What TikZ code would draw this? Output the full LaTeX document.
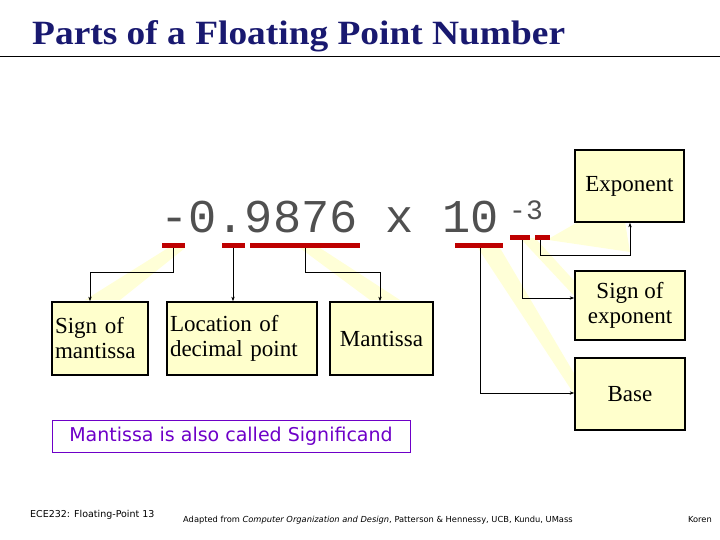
\documentclass[tikz,border=0pt]{standalone}
\usepackage{fontspec}
\setmainfont{Liberation Serif}
\setsansfont{DejaVu Sans}
\setmonofont{Liberation Mono}
\usetikzlibrary{arrows.meta,positioning}
\definecolor{titleblue}{RGB}{25,25,112}
\definecolor{boxfill}{RGB}{255,255,204}
\definecolor{wedge}{RGB}{255,255,215}
\definecolor{markred}{RGB}{190,0,0}
\definecolor{notepurple}{RGB}{110,0,200}
\definecolor{numgray}{RGB}{80,80,80}

\begin{document}
\begin{tikzpicture}[
    x=1pt, y=-1pt,
    part/.style={
        rectangle, draw, line width=1.6pt, fill=boxfill,
        align=left, font=\fontsize{23}{25}\selectfont, inner sep=3pt
    },
    redbar/.style={markred, line width=5pt},
    arrow/.style={-{Stealth[length=1.6mm,width=1.2mm]}, line width=0.7pt}
]
\useasboundingbox (0,0) rectangle (720,540);

% Title
\node[anchor=base west, font=\fontsize{34}{36}\selectfont\bfseries, text=titleblue, inner sep=0pt, xscale=1.1] (title) at (32,45) {Parts of a Floating Point Number};
\draw[line width=0.8pt] (0,56) -- (720,56);

% Yellow callout wedges
\fill[wedge] (168,248) -- (185,248) -- (120,300) -- (85,300) -- cycle;
\fill[wedge] (300,248) -- (320,248) -- (400,300) -- (370,300) -- cycle;
\fill[wedge] (478,248) -- (500,248) -- (578,380) -- (578,400) -- cycle;
\fill[wedge] (520,238) -- (535,238) -- (578,285) -- (578,300) -- cycle;
\fill[wedge] (535,238) -- (550,238) -- (578,222) -- (625,222) -- (630,252) -- cycle;

% The number
\node[anchor=base west, font=\ttfamily\fontsize{47}{47}\selectfont, text=numgray, inner sep=0pt] (num) at (160,233) {-0.9876 x 10};
\node[anchor=base west, font=\ttfamily\fontsize{28}{28}\selectfont, text=numgray, inner sep=0pt] (expo) at (509,220) {-3};

% Red marks
\draw[redbar] (162,245) -- (185,245);
\draw[redbar] (222,245) -- (245,245);
\draw[redbar] (250,245) -- (360,245);
\draw[redbar] (455,245) -- (503,245);
\draw[redbar] (510,237) -- (530,237);
\draw[redbar] (535,237) -- (550,237);
\coordinate (signend) at (173,248);
\coordinate (pointend) at (233,248);
\coordinate (mantend) at (305,248);
\coordinate (baseend) at (480,248);
\coordinate (esignend) at (522,240);
\coordinate (expend) at (540,240);

% Boxes
\node[part, minimum width=96pt, minimum height=73pt, text width=90pt] (smant) at (100,338.5) {Sign of\\mantissa};
\node[part, minimum width=150pt, minimum height=73pt, text width=144pt] (loc) at (242,338.5) {Location of\\decimal point};
\node[part, minimum width=103pt, minimum height=73pt, align=center] (mant) at (381.5,338.5) {Mantissa};
\node[part, minimum width=109pt, minimum height=72pt, align=center] (exp) at (629.5,186) {Exponent};
\node[part, minimum width=110pt, minimum height=69pt, align=center] (sexp) at (630,305.5) {Sign of\\exponent};
\node[part, minimum width=110pt, minimum height=72pt, align=center] (base) at (630,394) {Base};

% Connectors
\draw[arrow] (signend) |- (90,272) -- (smant.north -| 90,0);
\draw[arrow] (pointend) -- (loc.north -| pointend);
\draw[arrow] (mantend) |- (380,272) -- (mant.north -| 380,0);
\draw[arrow] (expend) |- (630,255) -- (exp.south -| 630,0);
\draw[arrow] (esignend) |- (sexp.west |- 0,298);
\draw[arrow] (baseend) |- (base.west |- 0,393);

% Note
\node[draw=notepurple, line width=1pt, text=notepurple, font=\sffamily\fontsize{19}{20}\selectfont, minimum width=358pt, minimum height=32pt, inner sep=1pt] (note) at (231,436) {Mantissa is also called Significand};

% Footer
\node[anchor=base west, font=\sffamily\fontsize{9.5}{10}\selectfont, inner sep=0pt] (course) at (30,517) {ECE232: Floating-Point 13};
\node[anchor=base west, font=\sffamily\fontsize{8.3}{9}\selectfont, inner sep=0pt] (credit) at (183,522) {Adapted from \textit{Computer Organization and Design}, Patterson \& Hennessy, UCB, Kundu, UMass};
\node[anchor=base east, font=\sffamily\fontsize{8.3}{9}\selectfont, inner sep=0pt] (author) at (712,522) {Koren};
\end{tikzpicture}
\end{document}
